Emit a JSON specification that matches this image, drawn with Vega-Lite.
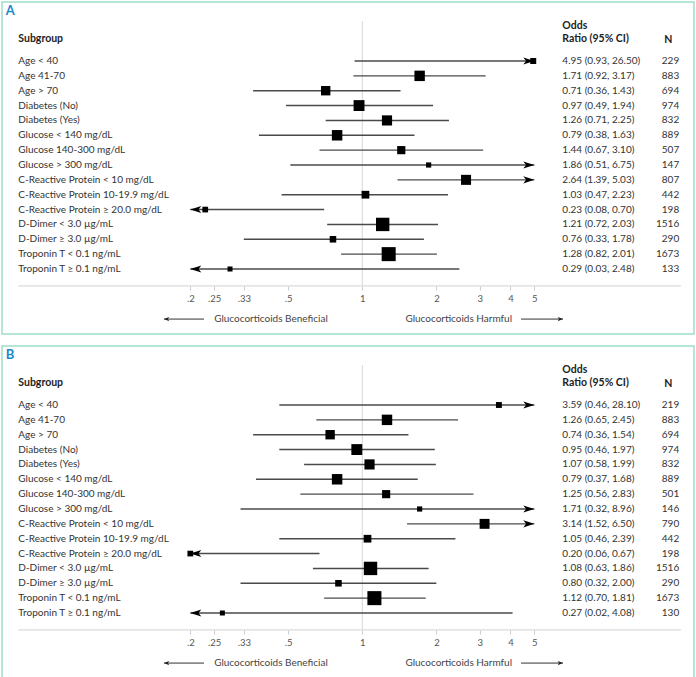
{
  "$schema": "https://vega.github.io/schema/vega-lite/v6.json",
  "padding": {"left": 1, "top": 1, "right": 1, "bottom": 1},
  "spacing": 10,
  "config": {
    "view": {"stroke": "#9edbc8", "strokeWidth": 1.5},
    "text": {"font": "Lato"},
    "axis": {"labelFont": "Lato"}
  },
  "datasets": {
    "A": [
      {"subgroup": "Age < 40", "or": 4.95, "lo": 0.93, "hi": 26.5, "ci": "4.95 (0.93, 26.50)", "n": 229},
      {"subgroup": "Age 41-70", "or": 1.71, "lo": 0.92, "hi": 3.17, "ci": "1.71 (0.92, 3.17)", "n": 883},
      {"subgroup": "Age > 70", "or": 0.71, "lo": 0.36, "hi": 1.43, "ci": "0.71 (0.36, 1.43)", "n": 694},
      {"subgroup": "Diabetes (No)", "or": 0.97, "lo": 0.49, "hi": 1.94, "ci": "0.97 (0.49, 1.94)", "n": 974},
      {"subgroup": "Diabetes (Yes)", "or": 1.26, "lo": 0.71, "hi": 2.25, "ci": "1.26 (0.71, 2.25)", "n": 832},
      {"subgroup": "Glucose < 140 mg/dL", "or": 0.79, "lo": 0.38, "hi": 1.63, "ci": "0.79 (0.38, 1.63)", "n": 889},
      {"subgroup": "Glucose 140-300 mg/dL", "or": 1.44, "lo": 0.67, "hi": 3.1, "ci": "1.44 (0.67, 3.10)", "n": 507},
      {"subgroup": "Glucose > 300 mg/dL", "or": 1.86, "lo": 0.51, "hi": 6.75, "ci": "1.86 (0.51, 6.75)", "n": 147},
      {"subgroup": "C-Reactive Protein < 10 mg/dL", "or": 2.64, "lo": 1.39, "hi": 5.03, "ci": "2.64 (1.39, 5.03)", "n": 807},
      {"subgroup": "C-Reactive Protein 10-19.9 mg/dL", "or": 1.03, "lo": 0.47, "hi": 2.23, "ci": "1.03 (0.47, 2.23)", "n": 442},
      {"subgroup": "C-Reactive Protein ≥ 20.0 mg/dL", "or": 0.23, "lo": 0.08, "hi": 0.7, "ci": "0.23 (0.08, 0.70)", "n": 198},
      {"subgroup": "D-Dimer < 3.0 µg/mL", "or": 1.21, "lo": 0.72, "hi": 2.03, "ci": "1.21 (0.72, 2.03)", "n": 1516},
      {"subgroup": "D-Dimer ≥ 3.0 µg/mL", "or": 0.76, "lo": 0.33, "hi": 1.78, "ci": "0.76 (0.33, 1.78)", "n": 290},
      {"subgroup": "Troponin T < 0.1 ng/mL", "or": 1.28, "lo": 0.82, "hi": 2.01, "ci": "1.28 (0.82, 2.01)", "n": 1673},
      {"subgroup": "Troponin T ≥ 0.1 ng/mL", "or": 0.29, "lo": 0.03, "hi": 2.48, "ci": "0.29 (0.03, 2.48)", "n": 133}
    ],
    "B": [
      {"subgroup": "Age < 40", "or": 3.59, "lo": 0.46, "hi": 28.1, "ci": "3.59 (0.46, 28.10)", "n": 219},
      {"subgroup": "Age 41-70", "or": 1.26, "lo": 0.65, "hi": 2.45, "ci": "1.26 (0.65, 2.45)", "n": 883},
      {"subgroup": "Age > 70", "or": 0.74, "lo": 0.36, "hi": 1.54, "ci": "0.74 (0.36, 1.54)", "n": 694},
      {"subgroup": "Diabetes (No)", "or": 0.95, "lo": 0.46, "hi": 1.97, "ci": "0.95 (0.46, 1.97)", "n": 974},
      {"subgroup": "Diabetes (Yes)", "or": 1.07, "lo": 0.58, "hi": 1.99, "ci": "1.07 (0.58, 1.99)", "n": 832},
      {"subgroup": "Glucose < 140 mg/dL", "or": 0.79, "lo": 0.37, "hi": 1.68, "ci": "0.79 (0.37, 1.68)", "n": 889},
      {"subgroup": "Glucose 140-300 mg/dL", "or": 1.25, "lo": 0.56, "hi": 2.83, "ci": "1.25 (0.56, 2.83)", "n": 501},
      {"subgroup": "Glucose > 300 mg/dL", "or": 1.71, "lo": 0.32, "hi": 8.96, "ci": "1.71 (0.32, 8.96)", "n": 146},
      {"subgroup": "C-Reactive Protein < 10 mg/dL", "or": 3.14, "lo": 1.52, "hi": 6.5, "ci": "3.14 (1.52, 6.50)", "n": 790},
      {"subgroup": "C-Reactive Protein 10-19.9 mg/dL", "or": 1.05, "lo": 0.46, "hi": 2.39, "ci": "1.05 (0.46, 2.39)", "n": 442},
      {"subgroup": "C-Reactive Protein ≥ 20.0 mg/dL", "or": 0.2, "lo": 0.06, "hi": 0.67, "ci": "0.20 (0.06, 0.67)", "n": 198},
      {"subgroup": "D-Dimer < 3.0 µg/mL", "or": 1.08, "lo": 0.63, "hi": 1.86, "ci": "1.08 (0.63, 1.86)", "n": 1516},
      {"subgroup": "D-Dimer ≥ 3.0 µg/mL", "or": 0.8, "lo": 0.32, "hi": 2.0, "ci": "0.80 (0.32, 2.00)", "n": 290},
      {"subgroup": "Troponin T < 0.1 ng/mL", "or": 1.12, "lo": 0.7, "hi": 1.81, "ci": "1.12 (0.70, 1.81)", "n": 1673},
      {"subgroup": "Troponin T ≥ 0.1 ng/mL", "or": 0.27, "lo": 0.02, "hi": 4.08, "ci": "0.27 (0.02, 4.08)", "n": 130}
    ]
  },
  "vconcat": [
    {
      "width": 692, "height": 332,
      "data": {"name": "A"},
      "resolve": {"scale": {"x": "independent", "y": "independent", "size": "independent"}},
      "layer": [
        {
          "data": {"values": [{}]},
          "layer": [
            {"mark": {"type": "rule", "color": "#d6d6d6", "strokeWidth": 1},
             "encoding": {
               "x": {"datum": 1, "type": "quantitative", "scale": {"type": "log", "domain": [0.2, 5], "range": [188.3, 532.3], "nice": false}, "axis": null},
               "y": {"datum": -2.69, "type": "quantitative", "scale": {"type": "linear", "domain": [-3.971, 18.375], "range": [0, 332], "nice": false, "zero": false}, "axis": null},
               "y2": {"datum": 15.14}}},
            {"mark": {"type": "rule", "color": "#d2d2d2", "strokeWidth": 1},
             "encoding": {
               "x": {"datum": 0.04, "type": "quantitative"},
               "x2": {"datum": 19.7},
               "y": {"datum": 15.14, "type": "quantitative"}}},
            {"mark": {"type": "text", "text": "A", "align": "left", "baseline": "middle", "fontSize": 13, "fontWeight": "bold", "color": "#1a88cc"},
             "encoding": {"x": {"datum": 0.0356, "type": "quantitative"}, "y": {"datum": -3.37, "type": "quantitative"}}},
            {"mark": {"type": "text", "text": "Subgroup", "align": "left", "baseline": "middle", "fontSize": 10.5, "fontWeight": "bold", "color": "#222"},
             "encoding": {"x": {"datum": 0.04, "type": "quantitative"}, "y": {"datum": -1.45, "type": "quantitative"}}},
            {"mark": {"type": "text", "text": "Odds", "align": "left", "baseline": "middle", "fontSize": 10.5, "fontWeight": "bold", "color": "#222"},
             "encoding": {"x": {"datum": 6.5, "type": "quantitative"}, "y": {"datum": -2.36, "type": "quantitative"}}},
            {"mark": {"type": "text", "text": "Ratio (95% CI)", "align": "left", "baseline": "middle", "fontSize": 10.5, "fontWeight": "bold", "color": "#222"},
             "encoding": {"x": {"datum": 6.5, "type": "quantitative"}, "y": {"datum": -1.45, "type": "quantitative"}}},
            {"mark": {"type": "text", "text": "N", "align": "center", "baseline": "middle", "fontSize": 10.5, "fontWeight": "bold", "color": "#222"},
             "encoding": {"x": {"datum": 17.5, "type": "quantitative"}, "y": {"datum": -1.4, "type": "quantitative"}}},
            {"mark": {"type": "text", "text": "Glucocorticoids Beneficial", "align": "left", "baseline": "middle", "fontSize": 10, "color": "#444"},
             "encoding": {"x": {"datum": 0.25, "type": "quantitative"}, "y": {"datum": 17.37, "type": "quantitative"}}},
            {"mark": {"type": "text", "text": "Glucocorticoids Harmful", "align": "right", "baseline": "middle", "fontSize": 10, "color": "#444"},
             "encoding": {"x": {"datum": 4.06, "type": "quantitative"}, "y": {"datum": 17.37, "type": "quantitative"}}},
            {"mark": {"type": "rule", "color": "#333", "strokeWidth": 1},
             "encoding": {"x": {"datum": 0.1563, "type": "quantitative"}, "x2": {"datum": 0.2274}, "y": {"datum": 17.37, "type": "quantitative"}}},
            {"mark": {"type": "rule", "color": "#333", "strokeWidth": 1},
             "encoding": {"x": {"datum": 4.416, "type": "quantitative"}, "x2": {"datum": 6.54}, "y": {"datum": 17.37, "type": "quantitative"}}},
            {"mark": {"type": "point", "shape": "M0,0L1,-0.4L0.75,0L1,0.4Z", "filled": true, "color": "#222", "size": 110, "opacity": 1},
             "encoding": {"x": {"datum": 0.1563, "type": "quantitative"}, "y": {"datum": 17.37, "type": "quantitative"}}},
            {"mark": {"type": "point", "shape": "M0,0L-1,-0.4L-0.75,0L-1,0.4Z", "filled": true, "color": "#222", "size": 110, "opacity": 1},
             "encoding": {"x": {"datum": 6.54, "type": "quantitative"}, "y": {"datum": 17.37, "type": "quantitative"}}}
          ]
        },
        {
          "layer": [
            {"mark": {"type": "rule", "color": "#4a4a4a", "strokeWidth": 1.4},
             "encoding": {
               "x": {"field": "lo", "type": "quantitative", "scale": {"type": "log", "domain": [0.2, 5], "range": [188.3, 532.3], "nice": false, "clamp": true},
                     "axis": {"orient": "bottom", "values": [0.2, 0.25, 0.33, 0.5, 1, 2, 3, 4, 5], "labelExpr": "datum.value < 1 ? slice(toString(datum.value), 1) : toString(datum.value)", "domain": false, "grid": false, "tickSize": 4, "tickColor": "#cccccc", "labelFontSize": 9.5, "labelColor": "#555", "labelPadding": 3, "offset": -48, "title": null, "labelFlush": false}},
               "x2": {"field": "hi"},
               "y": {"field": "subgroup", "type": "nominal", "sort": null, "scale": {"type": "point", "range": [59, 267], "padding": 0}, "axis": null}}},
            {"mark": {"type": "point", "shape": "square", "filled": true, "color": "#000", "opacity": 1},
             "encoding": {
               "x": {"field": "or", "type": "quantitative"},
               "y": {"field": "subgroup", "type": "nominal", "sort": null},
               "size": {"field": "n", "type": "quantitative", "scale": {"type": "linear", "zero": false, "domain": [130, 1700], "range": [25, 200]}, "legend": null}}},
            {"transform": [{"filter": "datum.hi > 5"}],
             "mark": {"type": "point", "shape": "M0,0L-1,-0.32L-0.75,0L-1,0.32Z", "filled": true, "color": "#000", "size": 484, "opacity": 1},
             "encoding": {"x": {"field": "hi", "type": "quantitative"}, "y": {"field": "subgroup", "type": "nominal", "sort": null}}},
            {"transform": [{"filter": "datum.lo < 0.2"}],
             "mark": {"type": "point", "shape": "M0,0L1,-0.32L0.75,0L1,0.32Z", "filled": true, "color": "#000", "size": 484, "opacity": 1},
             "encoding": {"x": {"field": "lo", "type": "quantitative"}, "y": {"field": "subgroup", "type": "nominal", "sort": null}}}
          ]
        },
        {
          "layer": [
            {"mark": {"type": "text", "align": "left", "baseline": "middle", "fontSize": 10, "color": "#333"},
             "encoding": {
               "x": {"datum": 0.04, "type": "quantitative", "scale": {"type": "log", "domain": [0.2, 5], "range": [188.3, 532.3], "nice": false}, "axis": null},
               "y": {"field": "subgroup", "type": "nominal", "sort": null, "scale": {"type": "point", "range": [59, 267], "padding": 0}, "axis": null},
               "text": {"field": "subgroup"}}},
            {"mark": {"type": "text", "align": "left", "baseline": "middle", "fontSize": 10, "color": "#333"},
             "encoding": {"x": {"datum": 6.5, "type": "quantitative"}, "y": {"field": "subgroup", "type": "nominal", "sort": null}, "text": {"field": "ci"}}},
            {"mark": {"type": "text", "align": "right", "baseline": "middle", "fontSize": 10, "color": "#333"},
             "encoding": {"x": {"datum": 19.4, "type": "quantitative"}, "y": {"field": "subgroup", "type": "nominal", "sort": null}, "text": {"field": "n", "type": "quantitative", "format": "d"}}}
          ]
        }
      ]
    },
    {
      "width": 692, "height": 332,
      "data": {"name": "B"},
      "resolve": {"scale": {"x": "independent", "y": "independent", "size": "independent"}},
      "layer": [
        {
          "data": {"values": [{}]},
          "layer": [
            {"mark": {"type": "rule", "color": "#d6d6d6", "strokeWidth": 1},
             "encoding": {
               "x": {"datum": 1, "type": "quantitative", "scale": {"type": "log", "domain": [0.2, 5], "range": [188.3, 532.3], "nice": false}, "axis": null},
               "y": {"datum": -2.69, "type": "quantitative", "scale": {"type": "linear", "domain": [-3.971, 18.375], "range": [0, 332], "nice": false, "zero": false}, "axis": null},
               "y2": {"datum": 15.14}}},
            {"mark": {"type": "rule", "color": "#d2d2d2", "strokeWidth": 1},
             "encoding": {
               "x": {"datum": 0.04, "type": "quantitative"},
               "x2": {"datum": 19.7},
               "y": {"datum": 15.14, "type": "quantitative"}}},
            {"mark": {"type": "text", "text": "B", "align": "left", "baseline": "middle", "fontSize": 13, "fontWeight": "bold", "color": "#1a88cc"},
             "encoding": {"x": {"datum": 0.0356, "type": "quantitative"}, "y": {"datum": -3.37, "type": "quantitative"}}},
            {"mark": {"type": "text", "text": "Subgroup", "align": "left", "baseline": "middle", "fontSize": 10.5, "fontWeight": "bold", "color": "#222"},
             "encoding": {"x": {"datum": 0.04, "type": "quantitative"}, "y": {"datum": -1.45, "type": "quantitative"}}},
            {"mark": {"type": "text", "text": "Odds", "align": "left", "baseline": "middle", "fontSize": 10.5, "fontWeight": "bold", "color": "#222"},
             "encoding": {"x": {"datum": 6.5, "type": "quantitative"}, "y": {"datum": -2.36, "type": "quantitative"}}},
            {"mark": {"type": "text", "text": "Ratio (95% CI)", "align": "left", "baseline": "middle", "fontSize": 10.5, "fontWeight": "bold", "color": "#222"},
             "encoding": {"x": {"datum": 6.5, "type": "quantitative"}, "y": {"datum": -1.45, "type": "quantitative"}}},
            {"mark": {"type": "text", "text": "N", "align": "center", "baseline": "middle", "fontSize": 10.5, "fontWeight": "bold", "color": "#222"},
             "encoding": {"x": {"datum": 17.5, "type": "quantitative"}, "y": {"datum": -1.4, "type": "quantitative"}}},
            {"mark": {"type": "text", "text": "Glucocorticoids Beneficial", "align": "left", "baseline": "middle", "fontSize": 10, "color": "#444"},
             "encoding": {"x": {"datum": 0.25, "type": "quantitative"}, "y": {"datum": 17.37, "type": "quantitative"}}},
            {"mark": {"type": "text", "text": "Glucocorticoids Harmful", "align": "right", "baseline": "middle", "fontSize": 10, "color": "#444"},
             "encoding": {"x": {"datum": 4.06, "type": "quantitative"}, "y": {"datum": 17.37, "type": "quantitative"}}},
            {"mark": {"type": "rule", "color": "#333", "strokeWidth": 1},
             "encoding": {"x": {"datum": 0.1563, "type": "quantitative"}, "x2": {"datum": 0.2274}, "y": {"datum": 17.37, "type": "quantitative"}}},
            {"mark": {"type": "rule", "color": "#333", "strokeWidth": 1},
             "encoding": {"x": {"datum": 4.416, "type": "quantitative"}, "x2": {"datum": 6.54}, "y": {"datum": 17.37, "type": "quantitative"}}},
            {"mark": {"type": "point", "shape": "M0,0L1,-0.4L0.75,0L1,0.4Z", "filled": true, "color": "#222", "size": 110, "opacity": 1},
             "encoding": {"x": {"datum": 0.1563, "type": "quantitative"}, "y": {"datum": 17.37, "type": "quantitative"}}},
            {"mark": {"type": "point", "shape": "M0,0L-1,-0.4L-0.75,0L-1,0.4Z", "filled": true, "color": "#222", "size": 110, "opacity": 1},
             "encoding": {"x": {"datum": 6.54, "type": "quantitative"}, "y": {"datum": 17.37, "type": "quantitative"}}}
          ]
        },
        {
          "layer": [
            {"mark": {"type": "rule", "color": "#4a4a4a", "strokeWidth": 1.4},
             "encoding": {
               "x": {"field": "lo", "type": "quantitative", "scale": {"type": "log", "domain": [0.2, 5], "range": [188.3, 532.3], "nice": false, "clamp": true},
                     "axis": {"orient": "bottom", "values": [0.2, 0.25, 0.33, 0.5, 1, 2, 3, 4, 5], "labelExpr": "datum.value < 1 ? slice(toString(datum.value), 1) : toString(datum.value)", "domain": false, "grid": false, "tickSize": 4, "tickColor": "#cccccc", "labelFontSize": 9.5, "labelColor": "#555", "labelPadding": 3, "offset": -48, "title": null, "labelFlush": false}},
               "x2": {"field": "hi"},
               "y": {"field": "subgroup", "type": "nominal", "sort": null, "scale": {"type": "point", "range": [59, 267], "padding": 0}, "axis": null}}},
            {"mark": {"type": "point", "shape": "square", "filled": true, "color": "#000", "opacity": 1},
             "encoding": {
               "x": {"field": "or", "type": "quantitative"},
               "y": {"field": "subgroup", "type": "nominal", "sort": null},
               "size": {"field": "n", "type": "quantitative", "scale": {"type": "linear", "zero": false, "domain": [130, 1700], "range": [25, 200]}, "legend": null}}},
            {"transform": [{"filter": "datum.hi > 5"}],
             "mark": {"type": "point", "shape": "M0,0L-1,-0.32L-0.75,0L-1,0.32Z", "filled": true, "color": "#000", "size": 484, "opacity": 1},
             "encoding": {"x": {"field": "hi", "type": "quantitative"}, "y": {"field": "subgroup", "type": "nominal", "sort": null}}},
            {"transform": [{"filter": "datum.lo < 0.2"}],
             "mark": {"type": "point", "shape": "M0,0L1,-0.32L0.75,0L1,0.32Z", "filled": true, "color": "#000", "size": 484, "opacity": 1},
             "encoding": {"x": {"field": "lo", "type": "quantitative"}, "y": {"field": "subgroup", "type": "nominal", "sort": null}}}
          ]
        },
        {
          "layer": [
            {"mark": {"type": "text", "align": "left", "baseline": "middle", "fontSize": 10, "color": "#333"},
             "encoding": {
               "x": {"datum": 0.04, "type": "quantitative", "scale": {"type": "log", "domain": [0.2, 5], "range": [188.3, 532.3], "nice": false}, "axis": null},
               "y": {"field": "subgroup", "type": "nominal", "sort": null, "scale": {"type": "point", "range": [59, 267], "padding": 0}, "axis": null},
               "text": {"field": "subgroup"}}},
            {"mark": {"type": "text", "align": "left", "baseline": "middle", "fontSize": 10, "color": "#333"},
             "encoding": {"x": {"datum": 6.5, "type": "quantitative"}, "y": {"field": "subgroup", "type": "nominal", "sort": null}, "text": {"field": "ci"}}},
            {"mark": {"type": "text", "align": "right", "baseline": "middle", "fontSize": 10, "color": "#333"},
             "encoding": {"x": {"datum": 19.4, "type": "quantitative"}, "y": {"field": "subgroup", "type": "nominal", "sort": null}, "text": {"field": "n", "type": "quantitative", "format": "d"}}}
          ]
        }
      ]
    }
  ]
}
